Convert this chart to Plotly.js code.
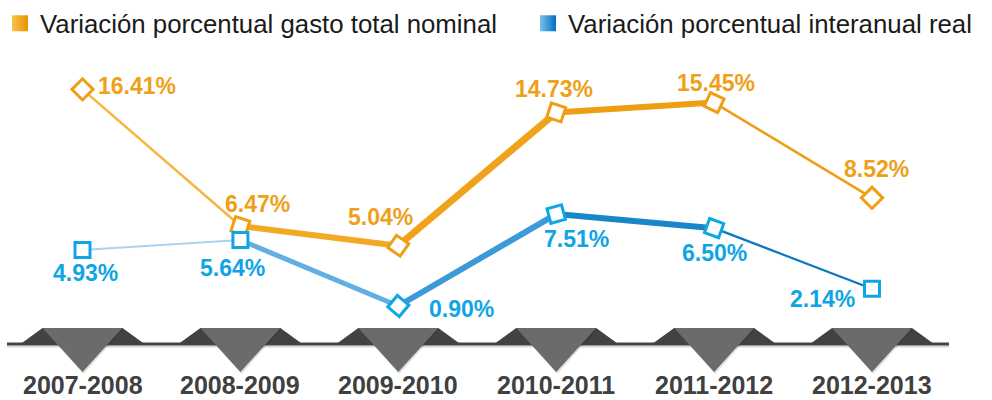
<!DOCTYPE html>
<html>
<head>
<meta charset="utf-8">
<script src="https://cdn.plot.ly/plotly-3.0.1.min.js"></script>
<style>html,body{margin:0;padding:0;background:#fff;}#chart{width:992px;height:400px;}</style>
</head>
<body>
<div id="chart"></div>
<script>
// ---- data ----
var categories = ['2007-2008', '2008-2009', '2009-2010', '2010-2011', '2011-2012', '2012-2013'];
var nominal = [16.41, 6.47, 5.04, 14.73, 15.45, 8.52];
var real = [4.93, 5.64, 0.90, 7.51, 6.50, 2.14];
var seriesNames = ['Variación porcentual gasto total nominal', 'Variación porcentual interanual real'];

// ---- styles ----
var orangeSegWidth = [2.5, 6, 7, 6, 2.5];
var orangeSegColor = ['#F5B73C', '#F2A925', '#F0A31A', '#EE9E12', '#EE9E12'];
var blueSegWidth = [2, 5, 6, 6, 2.2];
var blueSegColor = ['#A9D4F1', '#62AFE3', '#3C9AD8', '#1A86CA', '#0A78C0'];
var orangeAngles = [45, 18, 35, 18, 25, 45];
var blueAngles = [0, 0, 40, -15, 20, 0];
var orangeLabelOff = [[54, -3], [17, -22], [-18, -29], [-2, -23], [2, -20], [4, -29]];
var blueLabelOff = [[3, 23], [-8, 28], [63, 3], [20, 25], [0, 25], [-50, 10]];
var ORANGE = '#EF9F14', BLUE = '#0FA6E6', LABEL_O = '#EF9F1A', LABEL_B = '#0FA4E6';
var FONT = 'Liberation Sans, Arial, sans-serif';

var xs = categories.map(function (c, i) { return i; });
var traces = [];

function segTraces(vals, widths, colors, yaxis) {
  for (var i = 0; i < vals.length - 1; i++) {
    traces.push({
      type: 'scatter', mode: 'lines', x: [xs[i], xs[i + 1]], y: [vals[i], vals[i + 1]],
      yaxis: yaxis, showlegend: false, hoverinfo: 'skip',
      line: {color: colors[i], width: widths[i]}
    });
  }
}
segTraces(nominal, orangeSegWidth, orangeSegColor, 'y');
segTraces(real, blueSegWidth, blueSegColor, 'y2');

traces.push({
  type: 'scatter', mode: 'markers', x: xs, y: nominal, yaxis: 'y', showlegend: false,
  marker: {symbol: 'square', size: 15, color: '#ffffff', angle: orangeAngles, line: {color: ORANGE, width: 3}}
});
traces.push({
  type: 'scatter', mode: 'markers', x: xs, y: real, yaxis: 'y2', showlegend: false,
  marker: {symbol: 'square', size: 15, color: '#ffffff', angle: blueAngles, line: {color: BLUE, width: 3}}
});

// legend-only entries (one legend each, to place them on one row)
traces.push({
  type: 'scatter', mode: 'markers', x: [null], y: [null], name: seriesNames[0], showlegend: true, legend: 'legend',
  marker: {symbol: 'square', size: 16, color: '#F7C24A', gradient: {type: 'horizontal', color: '#EB9200'}}
});
traces.push({
  type: 'scatter', mode: 'markers', x: [null], y: [null], name: seriesNames[1], showlegend: true, legend: 'legend2',
  marker: {symbol: 'square', size: 16, color: '#7CC0EC', gradient: {type: 'horizontal', color: '#0070C0'}}
});

// ---- annotations ----
var annotations = [];
nominal.forEach(function (v, i) {
  annotations.push({
    xref: 'x', yref: 'y', x: xs[i], y: v, text: v.toFixed(2) + '%', showarrow: false,
    xshift: orangeLabelOff[i][0], yshift: -orangeLabelOff[i][1],
    font: {family: FONT, size: 23, color: LABEL_O, weight: 'bold'}
  });
});
real.forEach(function (v, i) {
  annotations.push({
    xref: 'x', yref: 'y2', x: xs[i], y: v, text: v.toFixed(2) + '%', showarrow: false,
    xshift: blueLabelOff[i][0], yshift: -blueLabelOff[i][1],
    font: {family: FONT, size: 23, color: LABEL_B, weight: 'bold'}
  });
});
categories.forEach(function (c, i) {
  annotations.push({
    xref: 'x', yref: 'paper', x: xs[i], y: 0, yanchor: 'bottom', text: c, showarrow: false, borderpad: 0,
    font: {family: FONT, size: 25, color: '#404040', weight: 'bold'}
  });
});

// ---- decoration shapes ----
var PXX = 157.9; // px per category step
function px2x(p) { return p / PXX; }
function py(p) { return 1 - p / 400; }
var shapes = [];
shapes.push({type: 'line', xref: 'paper', yref: 'paper', x0: 7 / 992, x1: 949 / 992, y0: py(346.5), y1: py(346.5), line: {color: '#d8d8d8', width: 2}, layer: 'below'});
shapes.push({type: 'line', xref: 'paper', yref: 'paper', x0: 7 / 992, x1: 949 / 992, y0: py(344), y1: py(344), line: {color: '#444444', width: 3}, layer: 'below'});
xs.forEach(function (c) {
  var trap = 'M ' + (c - px2x(62)) + ',' + py(344) + ' L ' + (c - px2x(40)) + ',' + py(328) +
    ' L ' + (c + px2x(40)) + ',' + py(328) + ' L ' + (c + px2x(62)) + ',' + py(344) + ' Z';
  shapes.push({type: 'path', xref: 'x', yref: 'paper', path: trap, fillcolor: '#424242', line: {width: 0}, layer: 'below'});
  var shadow = 'M ' + (c - px2x(39)) + ',' + py(329) + ' L ' + (c + px2x(41)) + ',' + py(329) +
    ' L ' + (c + px2x(1)) + ',' + py(374) + ' Z';
  shapes.push({type: 'path', xref: 'x', yref: 'paper', path: shadow, fillcolor: 'rgba(0,0,0,0.12)', line: {width: 0}, layer: 'below'});
  var tri = 'M ' + (c - px2x(40)) + ',' + py(328) + ' L ' + (c + px2x(40)) + ',' + py(328) +
    ' L ' + c + ',' + py(372) + ' Z';
  shapes.push({type: 'path', xref: 'x', yref: 'paper', path: tri, fillcolor: '#6b6b6b', line: {width: 0}, layer: 'below'});
});

var legendFont = {family: FONT, size: 25.8, color: '#1a1a1a'};
var layout = {
  width: 992, height: 400,
  margin: {l: 0, r: 0, t: 0, b: 0},
  paper_bgcolor: '#ffffff', plot_bgcolor: 'rgba(0,0,0,0)',
  font: {family: FONT},
  showlegend: true,
  legend: {orientation: 'h', x: 0, y: 1, xanchor: 'left', yanchor: 'top', font: legendFont, bgcolor: 'rgba(0,0,0,0)'},
  legend2: {orientation: 'h', x: 528 / 992, y: 1, xanchor: 'left', yanchor: 'top', font: legendFont, bgcolor: 'rgba(0,0,0,0)'},
  xaxis: {range: [-82.5 / PXX, (992 - 82.5) / PXX], visible: false, fixedrange: true},
  yaxis: {range: [-85 / 13.75, 315 / 13.75], visible: false, fixedrange: true},
  yaxis2: {range: [-81.5 / 13.9, 318.5 / 13.9], overlaying: 'y', visible: false, fixedrange: true},
  shapes: shapes,
  annotations: annotations
};

Plotly.newPlot('chart', traces, layout, {displayModeBar: false, staticPlot: true});
</script>
</body>
</html>
